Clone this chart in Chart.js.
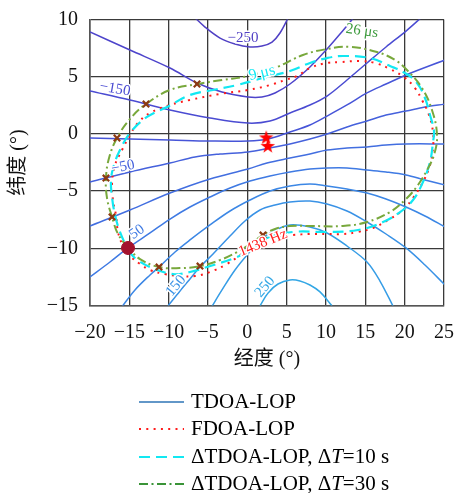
<!DOCTYPE html>
<html>
<head>
<meta charset="utf-8">
<script src="https://cdn.jsdelivr.net/npm/chart.js@4.4.0/dist/chart.umd.min.js"></script>
<style>
  html, body { margin: 0; padding: 0; background: #fff; overflow: hidden; }
</style>
</head>
<body>
<canvas id="chart" width="458" height="493"></canvas>
<script>
const FONT = "'Liberation Serif', 'Noto Sans CJK SC', serif";

const xTickVals = [-20, -15, -10, -5, 0, 5, 10, 15, 20, 25];
const yTickVals = [-15, -10, -5, 0, 5, 10];

// TDOA contour levels (ns) and their traced lines (lon, lat)
const levels = [-250, -200, -150, -100, -50, 0, 50, 100, 150, 200, 250];

const lopM250X = [-6.9, -5.38, -3.47, -1.57, 0.34, 1.86, 3.14, 4.15, 5.31];
const lopM250Y = [10.31, 9.34, 8.38, 7.86, 7.6, 7.68, 8.03, 8.82, 10.31];

const lopM200X = [-20, -14.92, -9.83, -6.40, -3.22, 0.08, 1.86, 3.52, 5.42, 7.96, 10.13, 11.78, 13.69];
const lopM200Y = [8.91, 7.33, 5.76, 4.45, 3.66, 3.23, 3.23, 3.58, 4.36, 5.85, 7.42, 8.73, 10.31];

const lopM150X = [-20, -14.92, -9.83, -4.75, 0.08, 2.88, 5.42, 7.96, 10.13, 12.67, 15.21, 17.63, 20.17, 22.35];
const lopM150Y = [3.75, 2.96, 2.09, 1.39, 0.95, 1.13, 1.83, 2.53, 3.31, 4.71, 6.2, 7.6, 8.99, 10.31];

const lopM100X = [-20, -14.92, -9.83, -4.75, 0.08, 2.62, 5.42, 7.96, 10.13, 12.67, 15.21, 17.63, 20.17, 25.13];
const lopM100Y = [-0.36, -0.45, -0.53, -0.62, -0.62, -0.45, 0.17, 0.78, 1.56, 2.53, 3.58, 4.36, 5.15, 6.46];

const lopM50X = [-20, -14.92, -9.83, -6.65, -3.47, 0.08, 2.88, 5.42, 7.96, 10.13, 12.67, 15.21, 17.63, 20.17, 22.58, 25.13];
const lopM50Y = [-4.2, -3.33, -2.54, -2.02, -1.76, -1.58, -1.23, -0.88, -0.45, -0.01, 0.6, 1.13, 1.65, 2.0, 2.35, 2.61];

const lop0X = [-20, -14.92, -9.83, -4.75, 0.08, 2.5, 5.42, 7.96, 10.13, 12.67, 15.21, 17.63, 20.17, 25.13];
const lop0Y = [-8.05, -6.65, -5.17, -3.94, -3.07, -2.54, -2.11, -1.76, -1.41, -1.23, -1.14, -0.97, -0.88, -0.88];

const lop50X = [-20, -17.46, -15.17, -12.37, -9.83, -7.29, -4.75, -2.2, 0.34, 2.88, 5.42, 7.96, 10.13, 12.67, 15.21, 17.63, 20.17, 22.58, 25.13];
const lop50Y = [-12.51, -11.2, -9.97, -8.66, -7.44, -6.39, -5.52, -4.73, -4.12, -3.68, -3.33, -3.07, -2.98, -2.98, -3.16, -3.33, -3.59, -4.03, -4.47];

const lop100X = [-16.06, -14.28, -12.37, -11.23, -9.19, -7.29, -4.75, -2.2, 0.34, 2.88, 5.42, 7.96, 10.13, 12.67, 15.21, 17.63, 20.17, 22.58, 25.13];
const lop100Y = [-15.22, -13.64, -12.33, -11.64, -10.32, -9.27, -7.96, -6.74, -5.78, -4.99, -4.55, -4.38, -4.55, -4.82, -5.17, -5.69, -6.39, -7.18, -8.14];

const lop150X = [-10.08, -8.56, -7.29, -6.02, -4.36, -2.2, -0.3, 1.61, 3.52, 5.42, 7.96, 10.13, 12.67, 15.21, 17.63, 20.17, 22.58, 25.13];
const lop150Y = [-15.03, -13.73, -12.68, -11.64, -10.5, -8.93, -7.61, -6.65, -6.22, -5.95, -5.87, -6.13, -6.74, -7.7, -8.75, -9.97, -11.46, -13.21];

const lop200X = [-4.62, -3.22, -1.57, 0.08, 1.99, 3.64, 5.42, 7.96, 10.13, 12.67, 15.21, 16.86, 18.64];
const lop200Y = [-15.22, -13.64, -11.9, -10.5, -9.1, -8.4, -7.96, -8.14, -8.66, -9.8, -11.2, -12.86, -15.22];

const lop250X = [1.61, 2.63, 3.9, 5.42, 6.69, 7.96, 9.24, 10.76];
const lop250Y = [-15.03, -13.9, -13.12, -12.77, -12.85, -13.21, -13.81, -15.03];

// FDOA contour (1438 Hz)
const fdoaX = [-15.81, -14.92, -13.64, -12.37, -10.47, -8.56, -6.65, -4.75, -2.59, -0.30, 1.61, 3.52, 5.80, 7.96, 10.13, 12.16, 14.07, 15.97, 17.88, 19.79, 21.06, 22.33, 23.22, 23.60, 23.60, 23.09, 22.20, 21.31, 20.04, 18.13, 16.22, 14.32, 11.78, 10.13, 7.96, 6.31, 4.79, 2.88, 0.08, -3.48, -7.29, -9.83, -12.37, -14.02, -14.92, -15.93, -16.82, -17.20, -17.08, -16.70, -16.44, -15.81];
const fdoaY = [-9.89, -10.67, -11.37, -11.90, -12.25, -12.42, -12.42, -12.07, -11.37, -10.32, -9.45, -9.01, -8.84, -8.75, -8.75, -8.75, -8.57, -8.23, -7.53, -6.65, -5.60, -4.20, -2.72, -1.23, 0.17, 1.66, 2.97, 4.01, 4.89, 5.67, 6.20, 6.37, 6.28, 6.20, 5.76, 5.06, 4.71, 4.27, 3.84, 3.49, 2.97, 2.53, 1.83, 0.87, -0.10, -1.41, -2.72, -4.29, -5.78, -7.09, -8.57, -9.89];

// dTDOA contour, dT = 10 s
const dt10X = [-15.17, -14.28, -12.37, -9.45, -7.29, -5.13, -1.31, 0.34, 2.50, 5.80, 10.13, 14.07, 17.25, 19.41, 21.06, 22.33, 23.22, 23.60, 23.73, 23.22, 22.58, 21.57, 20.04, 18.13, 15.59, 12.16, 10.13, 7.96, 5.42, 1.99, -1.31, -4.36, -7.29, -10.21, -12.75, -14.92, -16.19, -16.95, -17.33, -17.20, -16.82, -16.19, -15.17];
const dt10Y = [-10.15, -10.85, -11.64, -12.25, -12.07, -11.64, -10.76, -10.15, -9.10, -8.57, -8.57, -8.40, -7.70, -6.83, -5.78, -4.20, -2.46, -0.71, 0.25, 1.65, 3.14, 4.45, 5.32, 5.94, 6.63, 6.81, 6.63, 6.20, 5.50, 4.89, 4.27, 3.84, 3.40, 2.35, 1.48, 0.08, -1.41, -2.72, -4.03, -5.52, -7.09, -8.57, -10.15];

// dTDOA contour, dT = 30 s
const dt30X = [-15.17, -16.44, -17.20, -17.84, -17.97, -17.58, -16.57, -14.92, -12.88, -9.83, -6.40, -3.22, 0.08, 3.77, 7.07, 10.13, 13.05, 16.48, 18.77, 20.29, 22.20, 23.47, 24.11, 23.73, 22.84, 21.69, 20.17, 18.13, 15.21, 12.16, 7.96, 5.42, 3.52, 1.99, 0.34, -1.31, -3.48, -6.02, -8.56, -11.23, -13.64, -15.17];
const dt30Y = [-9.97, -8.75, -7.26, -5.60, -3.86, -2.11, -0.36, 1.30, 2.61, 3.84, 4.36, 4.71, 5.06, 5.85, 6.90, 7.42, 7.60, 7.16, 6.46, 5.59, 4.01, 2.09, -0.10, -1.84, -3.16, -4.47, -5.69, -6.83, -7.70, -8.05, -8.05, -8.05, -8.31, -8.84, -9.63, -10.33, -11.03, -11.55, -11.73, -11.64, -10.94, -9.97];

// crossings of TDOA lines with the 30 s curve, true emitter, satellites' sub-points
const crossX = [-6.40, -12.88, -16.57, -17.97, -17.20, -11.23, -6.02, 1.99];
const crossY = [4.36, 2.61, -0.36, -3.86, -7.26, -11.64, -11.55, -8.84];
const emitterX = [-15.17];
const emitterY = [-9.97];
const starX = [2.4, 2.6];
const starY = [-0.3, -1.05];

// inline contour labels
const clabelText = ['\u2212250', '\u2212150', '\u221250', '50', '150', '250'];
const clabelLevel = [-250, -150, -50, 50, 150, 250];
const clabelX = [-0.55, -16.82, -15.81, -14.03, -9.07, 2.24];
const clabelY = [8.38, 3.92, -2.89, -8.57, -13.29, -13.38];
const clabelAngle = [0, 10, -12, -35, -50, -50];

const lopColors = ['#5040c4', '#4d44cb', '#4a4bd2', '#4755d8', '#4561dc', '#426ee0',
                   '#3f7ae3', '#3c87e5', '#3992e6', '#369de6', '#33a7e5'];

const lopLines = [
  [lopM250X, lopM250Y], [lopM200X, lopM200Y], [lopM150X, lopM150Y], [lopM100X, lopM100Y],
  [lopM50X, lopM50Y], [lop0X, lop0Y], [lop50X, lop50Y], [lop100X, lop100Y],
  [lop150X, lop150Y], [lop200X, lop200Y], [lop250X, lop250Y]
];

const pts = (xs, ys) => xs.map((x, i) => ({ x: x, y: ys[i] }));
const fmt = v => (v < 0 ? '\u2212' + Math.abs(v) : String(v));

const RED = '#ff1a1a';
const CYAN = '#12e8f2';
const GREEN = '#78a83c';

// filled five-point star marker
const starImg = document.createElement('canvas');
starImg.width = 16;
starImg.height = 16;
(function () {
  const s = starImg.getContext('2d');
  s.fillStyle = '#ff0000';
  s.beginPath();
  for (let k = 0; k < 10; k++) {
    const r = k % 2 ? 3.0 : 7.6;
    const a = -Math.PI / 2 + k * Math.PI / 5;
    s.lineTo(8 + r * Math.cos(a), 8.5 + r * Math.sin(a));
  }
  s.closePath();
  s.fill();
})();

const datasets = [
  { data: pts(starX, starY), pointStyle: starImg, showLine: false },
  { data: pts(emitterX, emitterY), pointStyle: 'circle', pointRadius: 6.5,
    pointBackgroundColor: '#a3122e', pointBorderColor: '#a3122e', showLine: false },
  { data: pts(crossX, crossY), pointStyle: 'crossRot', pointRadius: 4.5, pointBorderWidth: 2.2,
    pointBorderColor: '#8c3a12', showLine: false },
  { data: pts(dt30X, dt30Y), showLine: true, borderColor: GREEN, borderWidth: 2,
    borderDash: [9, 3.5, 2, 3.5], pointRadius: 0, tension: 0.4, clip: 0 },
  { data: pts(dt10X, dt10Y), showLine: true, borderColor: CYAN, borderWidth: 2.2,
    borderDash: [11, 6], pointRadius: 0, tension: 0.4, clip: 0 },
  { data: pts(fdoaX, fdoaY), showLine: true, borderColor: RED, borderWidth: 2,
    borderDash: [2, 5.3], pointRadius: 0, tension: 0.4, clip: 0 }
];
lopLines.forEach((ln, i) => {
  datasets.push({ data: pts(ln[0], ln[1]), showLine: true, borderColor: lopColors[i],
    borderWidth: 1.5, pointRadius: 0, tension: 0.35, clip: 0 });
});

const labelsPlugin = {
  id: 'curveLabels',
  afterDatasetsDraw(chart) {
    const { ctx, scales: { x, y } } = chart;
    const put = (text, lx, ly, ang, color, size) => {
      ctx.save();
      ctx.translate(x.getPixelForValue(lx), y.getPixelForValue(ly));
      ctx.rotate(ang * Math.PI / 180);
      ctx.font = size + 'px ' + FONT;
      ctx.textAlign = 'center';
      ctx.textBaseline = 'middle';
      ctx.lineWidth = 3;
      ctx.strokeStyle = '#fff';
      ctx.strokeText(text, 0, 0);
      ctx.fillStyle = color;
      ctx.fillText(text, 0, 0);
      ctx.restore();
    };
    clabelText.forEach((t, i) => {
      put(t, clabelX[i], clabelY[i], clabelAngle[i], lopColors[levels.indexOf(clabelLevel[i])], 15);
    });
    put('26 \u03bcs', 14.57, 8.99, 8, '#3c9a3c', 15);
    put('1438 Hz', 1.99, -9.54, -22, RED, 15);
    put('9 \u03bcs', 1.86, 5.32, -14, CYAN, 16);
  }
};

const legendPlugin = {
  id: 'bottomLegend',
  afterDraw(chart) {
    const ctx = chart.ctx;
    const items = [
      { color: '#2e75b6', dash: [], width: 1.6, parts: [['TDOA-LOP', '']] },
      { color: RED, dash: [2, 5.3], width: 2, parts: [['FDOA-LOP', '']] },
      { color: CYAN, dash: [11, 6], width: 2, parts: [['\u0394TDOA-LOP, \u0394', ''], ['T', 'italic '], ['=10 s', '']] },
      { color: '#3a9438', dash: [9, 3.5, 2, 3.5], width: 1.8, parts: [['\u0394TDOA-LOP, \u0394', ''], ['T', 'italic '], ['=30 s', '']] }
    ];
    const rowY = [402, 429, 457, 484];
    ctx.save();
    items.forEach((it, i) => {
      const yy = rowY[i];
      ctx.beginPath();
      ctx.setLineDash(it.dash);
      ctx.strokeStyle = it.color;
      ctx.lineWidth = it.width;
      ctx.moveTo(139, yy);
      ctx.lineTo(184, yy);
      ctx.stroke();
      ctx.setLineDash([]);
      let xx = 191;
      ctx.fillStyle = '#000';
      ctx.textBaseline = 'middle';
      ctx.textAlign = 'left';
      it.parts.forEach(p => {
        ctx.font = p[1] + '21px ' + FONT;
        ctx.fillText(p[0], xx, yy);
        xx += ctx.measureText(p[0]).width;
      });
    });
    ctx.restore();
  }
};

const axisFont = { family: FONT, size: 20 };

new Chart(document.getElementById('chart'), {
  type: 'scatter',
  data: { datasets: datasets },
  options: {
    responsive: false,
    animation: false,
    devicePixelRatio: 1,
    layout: { padding: { left: 0, right: 14, top: 19.5, bottom: 121 } },
    plugins: { legend: { display: false }, tooltip: { enabled: false } },
    events: [],
    scales: {
      x: {
        type: 'linear', min: -20, max: 25,
        afterBuildTicks: s => { s.ticks = xTickVals.map(v => ({ value: v })); },
        afterFit: s => { s.height = 66.5; s.paddingLeft = 0; s.paddingRight = 0; },
        ticks: { callback: v => fmt(v), font: axisFont, color: '#111', padding: 15, maxRotation: 0, autoSkip: false },
        grid: { color: '#3a3a3a', lineWidth: 1.3, drawTicks: false },
        border: { color: '#555', width: 1.6 },
        title: { display: true, text: '经度 (°)', font: axisFont, color: '#111', padding: 0 }
      },
      y: {
        type: 'linear', min: -15, max: 10,
        afterBuildTicks: s => { s.ticks = yTickVals.map(v => ({ value: v })); },
        afterFit: s => { s.width = 90; s.paddingTop = 0; s.paddingBottom = 0; },
        ticks: { callback: v => fmt(v), font: axisFont, color: '#111', padding: 12, autoSkip: false },
        grid: { color: '#3a3a3a', lineWidth: 1.3, drawTicks: false },
        border: { color: '#555', width: 1.6 },
        title: { display: true, text: '纬度 (°)', font: axisFont, color: '#111', padding: { top: 7, bottom: 0 } }
      }
    }
  },
  plugins: [labelsPlugin, legendPlugin]
});
</script>
</body>
</html>
